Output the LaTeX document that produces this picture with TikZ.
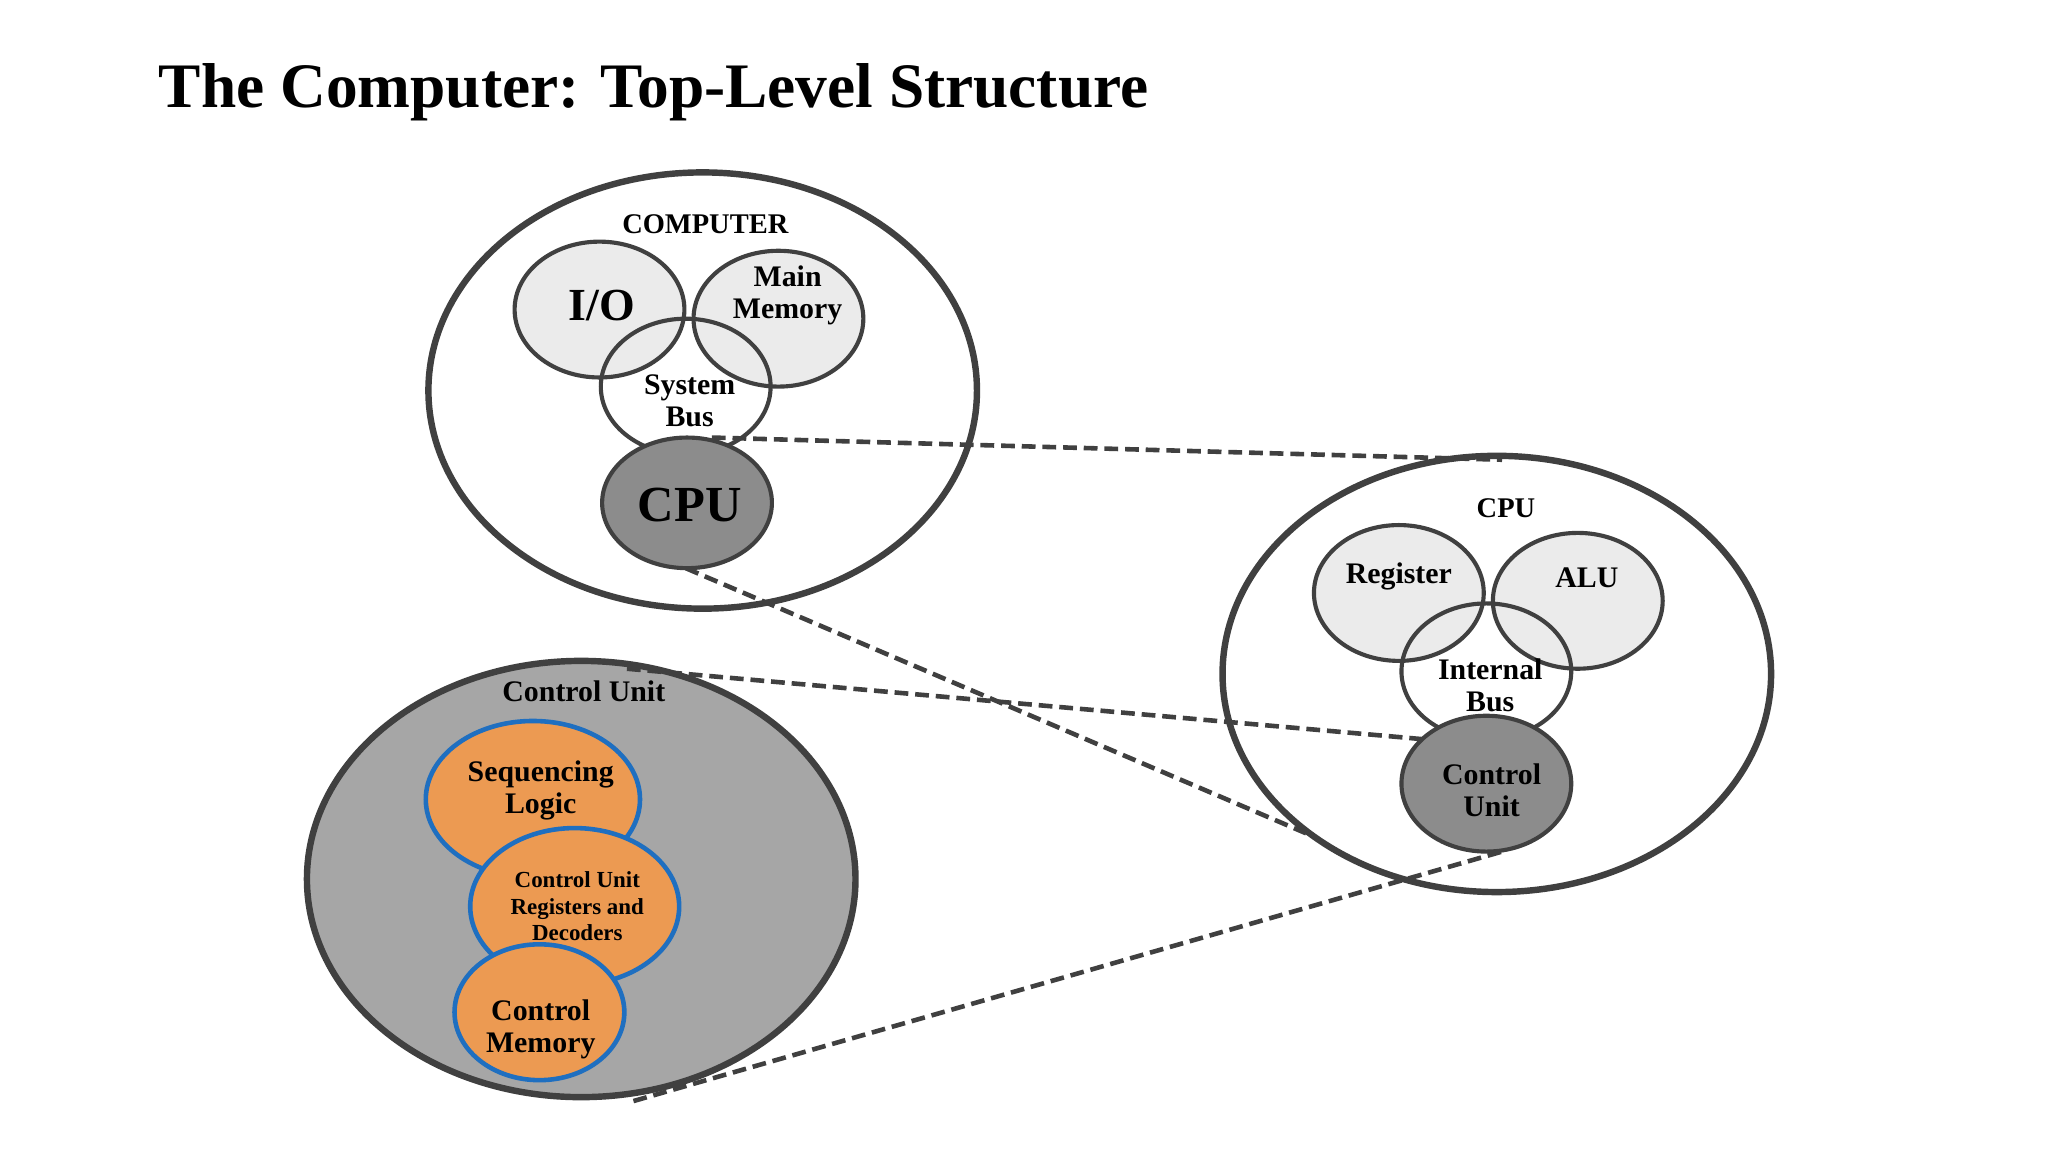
\documentclass[tikz,border=0pt]{standalone}
\usepackage{fontspec}
\setmainfont{Liberation Serif}
\definecolor{orng}{HTML}{EC9A52}
\definecolor{blu}{HTML}{1F6FC0}
\begin{document}
\begin{tikzpicture}[x=0.01cm,y=-0.01cm,
  big/.style={draw=black!75,line width=1.4pt},
  sub/.style={draw=black!75,line width=0.9pt,fill=black!8},
  bus/.style={draw=black!75,line width=0.9pt},
  dark/.style={draw=black!75,line width=0.9pt,fill=black!45},
  org/.style={draw=blu,line width=1pt,fill=orng},
  lab/.style={font=\bfseries\fontsize{6.5}{7}\selectfont,align=center},
  conn/.style={line width=1pt,draw=black!75,dash pattern=on 3pt off 1.5pt}]
\useasboundingbox (0,0) rectangle (1568,882);
\node[font=\bfseries\fontsize{13.8}{16}\selectfont,anchor=base west,inner sep=0pt] (title) at (121,82) {The Computer: Top-Level Structure};
% Computer
\draw[big] (538,299) ellipse [x radius=210,y radius=167];
\node[lab,font=\bfseries\fontsize{6.2}{7}\selectfont] (complab) at (540,172) {COMPUTER};
\draw[sub] (459,237) ellipse [x radius=65,y radius=52];
\draw[sub] (596,244) ellipse [x radius=65,y radius=52];
\draw[bus] (525,296) ellipse [x radius=65,y radius=52];
\draw[dark] (526,385) ellipse [x radius=65,y radius=50];
\node[lab,font=\bfseries\fontsize{10}{11}\selectfont] (io) at (461,234) {I/O};
\node[lab] (mm) at (603,226) {Main\\Memory};
\node[lab] (sb) at (528,307) {System\\Bus};
\node[lab,font=\bfseries\fontsize{11}{12}\selectfont] (cpu) at (528,387) {CPU};
% CPU
\draw[big] (1146,516) ellipse [x radius=210,y radius=167];
\node[lab,font=\bfseries\fontsize{6.2}{7}\selectfont] (cpulab) at (1153,389) {CPU};
\draw[sub] (1071,454) ellipse [x radius=65,y radius=52];
\draw[sub] (1208,460) ellipse [x radius=65,y radius=52];
\draw[bus] (1138,514) ellipse [x radius=65,y radius=52];
\draw[dark] (1138,600) ellipse [x radius=65,y radius=52];
\node[lab] (reg) at (1071,441) {Register};
\node[lab] (alu) at (1215,442) {ALU};
\node[lab] (ib) at (1141,525) {Internal\\Bus};
\node[lab] (cu) at (1142,605) {Control\\Unit};
% Control unit
\draw[big,fill=black!35] (445,673) ellipse [x radius=210,y radius=167];
\node[lab] (culab) at (447,529) {Control Unit};
\draw[org] (408,612) ellipse [x radius=82,y radius=60];
\draw[org] (440,694) ellipse [x radius=80,y radius=60];
\draw[org] (413,775) ellipse [x radius=65,y radius=52];
\node[lab] (seq) at (414,605) {Sequencing\\Logic};
\node[lab,font=\bfseries\fontsize{5}{5.8}\selectfont] (reg2) at (442,694) {Control Unit\\Registers and\\Decoders};
\node[lab] (cm) at (414,788) {Control\\Memory};
% connectors
\coordinate (a1) at (545,335); \coordinate (a2) at (1150,352);
\coordinate (b1) at (525,435); \coordinate (b2) at (1000,638);
\coordinate (c1) at (480,512); \coordinate (c2) at (1090,566);
\coordinate (d1) at (485,843); \coordinate (d2) at (1150,652);
\draw[conn] (a1) -- (a2);
\draw[conn] (b1) -- (b2);
\draw[conn] (c1) -- (c2);
\draw[conn] (d1) -- (d2);
\end{tikzpicture}
\end{document}
